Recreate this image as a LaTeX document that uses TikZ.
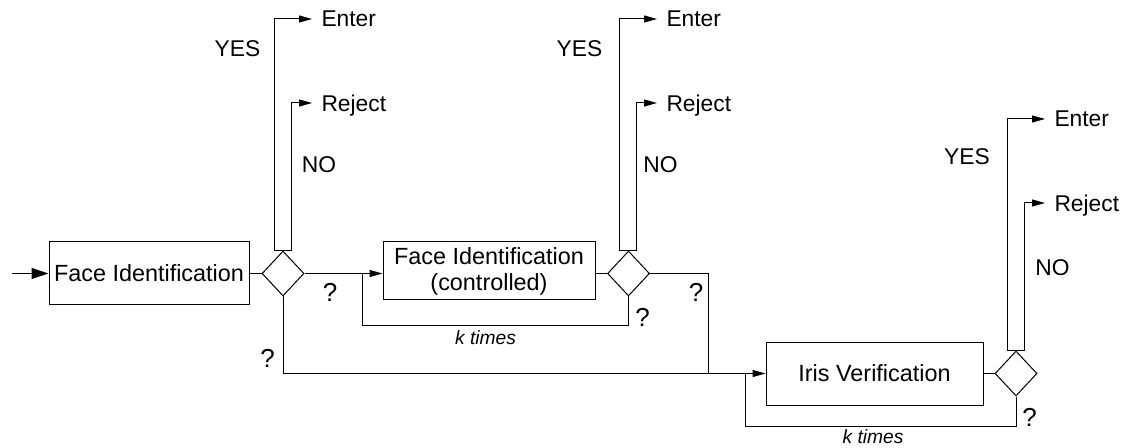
\documentclass[tikz,border=0pt]{standalone}
\usepackage{fontspec}
\setmainfont{Liberation Sans}
\usetikzlibrary{shapes.geometric,arrows.meta}

\tikzset{
  stage/.style={draw, inner sep=0pt, align=center, font=\fontsize{11.7}{13}\selectfont},
  test/.style={draw, diamond, inner sep=0pt, minimum width=21pt, minimum height=22.5pt},
  outcome/.style={anchor=west, inner xsep=4.5pt, inner ysep=0pt, text depth=0pt, font=\fontsize{11.4}{13}\selectfont},
  lbl/.style={inner sep=0pt, font=\fontsize{11.4}{13}\selectfont},
  quest/.style={inner sep=0pt, font=\fontsize{13}{15}\selectfont},
  reps/.style={inner sep=0pt, font=\fontsize{9.6}{11}\selectfont\itshape},
  flow/.style={-{Triangle[length=6.5pt,width=3.5pt]}},
}

\begin{document}
\begin{tikzpicture}[x=0.5pt,y=-0.5pt,line width=0.5pt]
\useasboundingbox (0,0) rectangle (1128,448);

% stages and tests
\node[stage, minimum width=100pt, minimum height=31.5pt] (face) at (149,273.5) {Face Identification};
\node[stage, minimum width=106pt, minimum height=29pt] (fctl) at (489,271) {Face Identification\\(controlled)};
\node[stage, minimum width=108.5pt, minimum height=31.5pt] (iris) at (874.5,373.5) {Iris Verification};
\node[test] (d1) at (283,273.5) {};
\node[test] (d2) at (628.5,273.5) {};
\node[test] (d3) at (1016,373.5) {};

% outcomes
\node[outcome] (enter1) at (312,19) {Enter};
\node[outcome] (reject1) at (312,103) {Reject};
\node[outcome] (enter2) at (657,19) {Enter};
\node[outcome] (reject2) at (657,103) {Reject};
\node[outcome] (enter3) at (1045,119) {Enter};
\node[outcome] (reject3) at (1045,203) {Reject};

\node[lbl] (yes1) at (237.5,48.5) {YES};
\node[lbl] (no1) at (319,165) {NO};
\node[lbl] (yes2) at (579.5,48.5) {YES};
\node[lbl] (no2) at (660.5,165) {NO};
\node[lbl] (yes3) at (967,157) {YES};
\node[lbl] (no3) at (1052.5,268) {NO};

\node[quest] (q1) at (330,292.5) {?};
\node[quest] (q2) at (267.5,358) {?};
\node[quest] (q3) at (642.5,317.5) {?};
\node[quest] (q4) at (696,292.5) {?};
\node[quest] (q5) at (1029.5,417.5) {?};
\node[reps] (k1) at (485.5,338) {k times};
\node[reps] (k2) at (873,437) {k times};

% joints
\coordinate (start) at (12,273.5);
\coordinate (back1) at (362,326);
\coordinate (join1) at (362,273.5);
\coordinate (join2) at (708,373.5);
\coordinate (back3) at (745,426);
\coordinate (join3) at (745,373.5);

% flow
\draw[-{Triangle[length=8.5pt,width=5.5pt]}] (start) -- (face.west);
\draw (face.east) -- (d1.west);
\draw[flow] (d1.east) -- (d1.east -| fctl.west);
\draw (fctl.east |- d2.west) -- (d2.west);
\draw (d2.south) |- (back1) -- (join1);
\draw[flow] (d1.south) |- (iris.west);
\draw (d2.east) -| (join2);
\draw (iris.east) -- (d3.west);
\draw (d3.south) |- (back3) -- (join3);

\foreach \i in {1,2,3} {
  \draw[flow] (d\i.north) -- ++(-9,0) |- (enter\i.west);
  \draw[flow] (d\i.north) -- ++(8,0) |- (reject\i.west);
}
\end{tikzpicture}
\end{document}
